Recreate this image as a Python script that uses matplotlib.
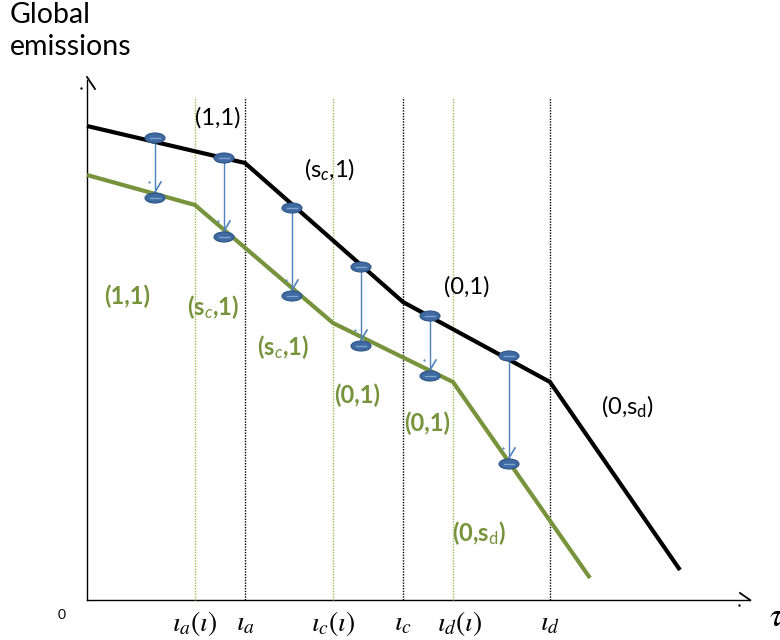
import matplotlib
matplotlib.use("Agg")
import matplotlib.pyplot as plt
from matplotlib.patches import Ellipse

plt.rcParams['font.family'] = ['Lato', 'DejaVu Sans']
plt.rcParams['mathtext.fontset'] = 'custom'
plt.rcParams['mathtext.rm'] = 'Lato'
plt.rcParams['mathtext.it'] = 'Lato:italic'
plt.rcParams['mathtext.bf'] = 'Lato:bold'

# ---- data (arbitrary schematic units; origin at axes corner) ----
black_x = [0, 158, 316, 463, 593]
black_y = [474, 437, 298, 218, 30]
green_x = [0, 108, 246, 366, 503]
green_y = [425, 395, 277, 218, 22]

green_thresholds = [108, 246, 366]
black_thresholds = [158, 316, 463]
threshold_top = 503

marker_x = [68, 137, 205, 274, 343, 422]
marker_top = [462, 442, 392, 333, 284, 244]
marker_bot = [402, 363, 304, 254, 224, 136]

tick_pos = [108, 158, 246, 316, 373, 463]
tick_labels = [r'$\iota_a(\iota)$', r'$\iota_a$', r'$\iota_c(\iota)$', r'$\iota_c$',
               r'$\iota_d(\iota)$', r'$\iota_d$']

black_labels = [r'(1,1)', r'(s$_{\mathit{c}}$,1)', r'(0,1)', r'(0,s$_{\mathrm{d}}$)']
black_label_pos = [(131, 482), (243, 430), (380, 313), (540, 193)]
green_labels = [r'(1,1)', r'(s$_{\mathit{c}}$,1)', r'(s$_{\mathit{c}}$,1)', r'(0,1)', r'(0,1)', r'(0,s$_{\mathrm{d}}$)']
green_label_pos = [(40, 304), (126, 293), (196, 253), (270, 205), (340, 177), (392, 67)]

GREEN = '#77933c'
BLUE = '#4f81bd'

fig = plt.figure(figsize=(7.8, 6.4), dpi=100)
ax = fig.add_axes([0, 0, 1, 1])
ax.set_xlim(-87, 693)
ax.set_ylim(-40, 600)
ax.axis('off')

# axes
ax.plot([0, 0], [0, 520], color='black', lw=1.0)
ax.plot([0, 663], [0, 0], color='black', lw=1.0)
ax.plot([0, 8], [523, 511], color='black', lw=1.3)
ax.plot([-6], [512], marker='.', color='black', ms=1.5)
ax.plot([653, 663], [7, 0], color='black', lw=1.3)
ax.plot([652], [-5], marker='.', color='black', ms=1.5)

# threshold lines
for x in green_thresholds:
    ax.plot([x, x], [0, threshold_top], color='#9bbb59', lw=1.0, ls=(0, (1, 1)))
for x in black_thresholds:
    ax.plot([x, x], [0, threshold_top], color='black', lw=1.0, ls=(0, (1, 1)))

# lines
ax.plot(black_x, black_y, color='black', lw=3, solid_capstyle='butt', zorder=3)
ax.plot(green_x, green_y, color=GREEN, lw=3, solid_capstyle='butt', zorder=3)

# arrows and markers
for x, yt, yb in zip(marker_x, marker_top, marker_bot):
    ax.plot([x, x], [yt - 5, yb + 5], color=BLUE, lw=1.0, zorder=4)
    ax.plot([x, x + 6], [yb + 6, yb + 16], color=BLUE, lw=1.2, zorder=4)
    ax.plot([x - 6], [yb + 16], marker='.', color=BLUE, ms=1.2, zorder=4)
    for y in (yt, yb):
        ax.add_patch(Ellipse((x, y), 20, 10, facecolor='#3e6aa1',
                             edgecolor='#2f5488', lw=0.8, zorder=5))
        ax.plot([x - 5, x + 5], [y, y], color='#7ea3d2', lw=1.0, zorder=6)

# labels
for t, (x, y) in zip(black_labels, black_label_pos):
    ax.text(x, y, t, fontsize=17, color='black', ha='center', va='center')
for t, (x, y) in zip(green_labels, green_label_pos):
    ax.text(x, y, t, fontsize=17, color=GREEN, fontweight='bold', ha='center', va='center')

for p, t in zip(tick_pos, tick_labels):
    ax.text(p, -23, t, fontsize=20, ha='center', va='center', math_fontfamily='stix')

ax.text(-25, -15, '0', fontsize=10, ha='center', va='center')
ax.text(682, -17, r'$\tau$', fontsize=24, ha='left', va='center', math_fontfamily='stix')
ax.text(-77, 598, 'Global\nemissions', fontsize=20.5, ha='left', va='top', linespacing=1.3)

fig.savefig('out.png', dpi=100)
